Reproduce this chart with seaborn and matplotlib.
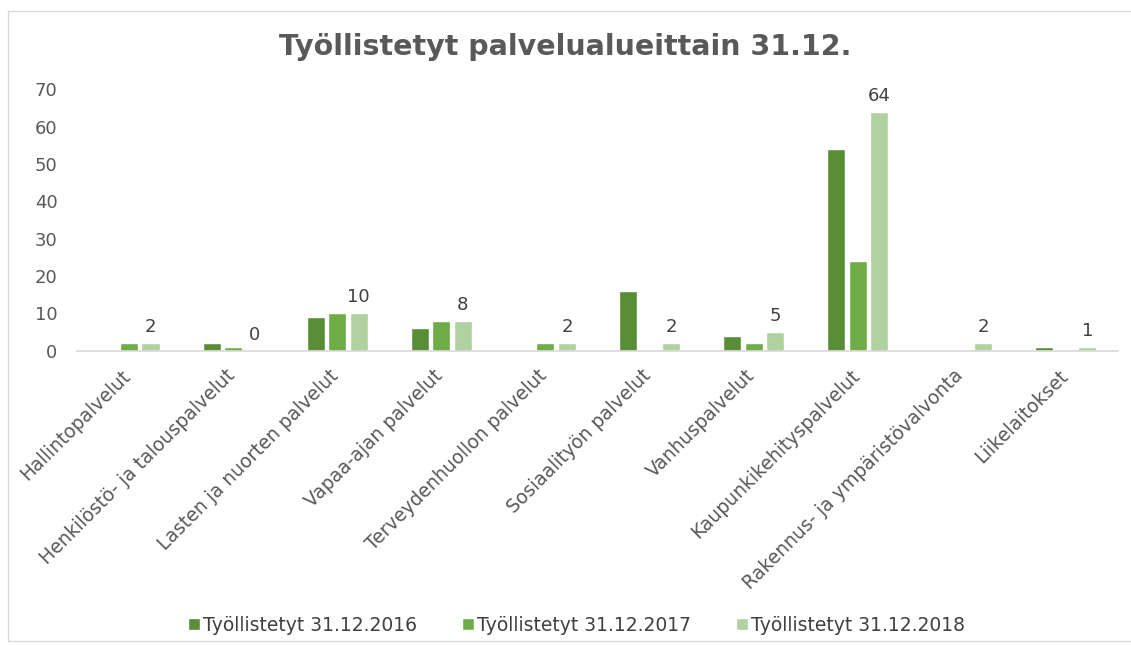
import matplotlib
matplotlib.use("Agg")
import matplotlib.pyplot as plt
import matplotlib.transforms as mtransforms
import seaborn as sns
import pandas as pd
from matplotlib.patches import Rectangle

categories = ["Hallintopalvelut", "Henkilöstö- ja talouspalvelut", "Lasten ja nuorten palvelut",
              "Vapaa-ajan palvelut", "Terveydenhuollon palvelut", "Sosiaalityön palvelut",
              "Vanhuspalvelut", "Kaupunkikehityspalvelut", "Rakennus- ja ympäristövalvonta",
              "Liikelaitokset"]
series_names = ["Työllistetyt 31.12.2016", "Työllistetyt 31.12.2017", "Työllistetyt 31.12.2018"]
values_2016 = [0, 2, 9, 6, 0, 16, 4, 54, 0, 1]
values_2017 = [2, 1, 10, 8, 2, 0, 2, 24, 0, 0]
values_2018 = [2, 0, 10, 8, 2, 2, 5, 64, 2, 1]
colors = ["#5A8E36", "#6EAD45", "#B0D1A0"]

rows = []
for name, vals in zip(series_names, [values_2016, values_2017, values_2018]):
    for c, v in zip(categories, vals):
        rows.append({"cat": c, "series": name, "val": v})
df = pd.DataFrame(rows)

sns.set_style("white")
plt.rcParams['font.family'] = ['DejaVu Sans']

fig = plt.figure(figsize=(11.31, 6.46), dpi=100)
ax = fig.add_axes([0.068, 0.457, 0.9205, 0.405])
sns.barplot(data=df, x="cat", y="val", hue="series", palette=colors, ax=ax,
            width=0.62, gap=0.16, order=categories, hue_order=series_names,
            saturation=1)

ax.bar_label(ax.containers[2], fmt="%d", padding=5, fontsize=13, color="#404040")

ax.set_ylim(0, 70)
ax.set_yticks(range(0, 71, 10))
ax.set_xlim(-0.5, len(categories) - 0.5)
ax.set_xlabel("")
ax.set_ylabel("")
for s in ["top", "right", "left"]:
    ax.spines[s].set_visible(False)
ax.spines["bottom"].set_color("#D9D9D9")
ax.spines["bottom"].set_linewidth(1.2)
ax.tick_params(axis="y", length=0, labelsize=13, labelcolor="#595959", pad=14)
ax.tick_params(axis="x", length=0, labelsize=13.5, labelcolor="#595959", pad=11)
offset = mtransforms.ScaledTranslation(-8 / 100, 0, fig.dpi_scale_trans)
for lbl in ax.get_xticklabels():
    lbl.set_rotation(45)
    lbl.set_ha("right")
    lbl.set_rotation_mode("anchor")
    lbl.set_transform(lbl.get_transform() + offset)

fig.text(0.5, 0.927, "Työllistetyt palvelualueittain 31.12.", ha="center", va="center",
         fontsize=20.5, fontweight="bold", color="#595959")

handles, labels = ax.get_legend_handles_labels()
ax.legend_.remove()
fig.legend(handles, labels, loc="center", bbox_to_anchor=(0.51, 0.032), ncol=3,
           frameon=False, fontsize=13.5, handlelength=0.6, handleheight=0.6,
           handletextpad=0.2, columnspacing=2.4, labelcolor="#404040")

fig.patches.append(Rectangle((0.007, 0.008), 0.995, 0.975, transform=fig.transFigure,
                             fill=False, edgecolor="#D9D9D9", linewidth=1.0))

fig.savefig("out.png", dpi=100)
